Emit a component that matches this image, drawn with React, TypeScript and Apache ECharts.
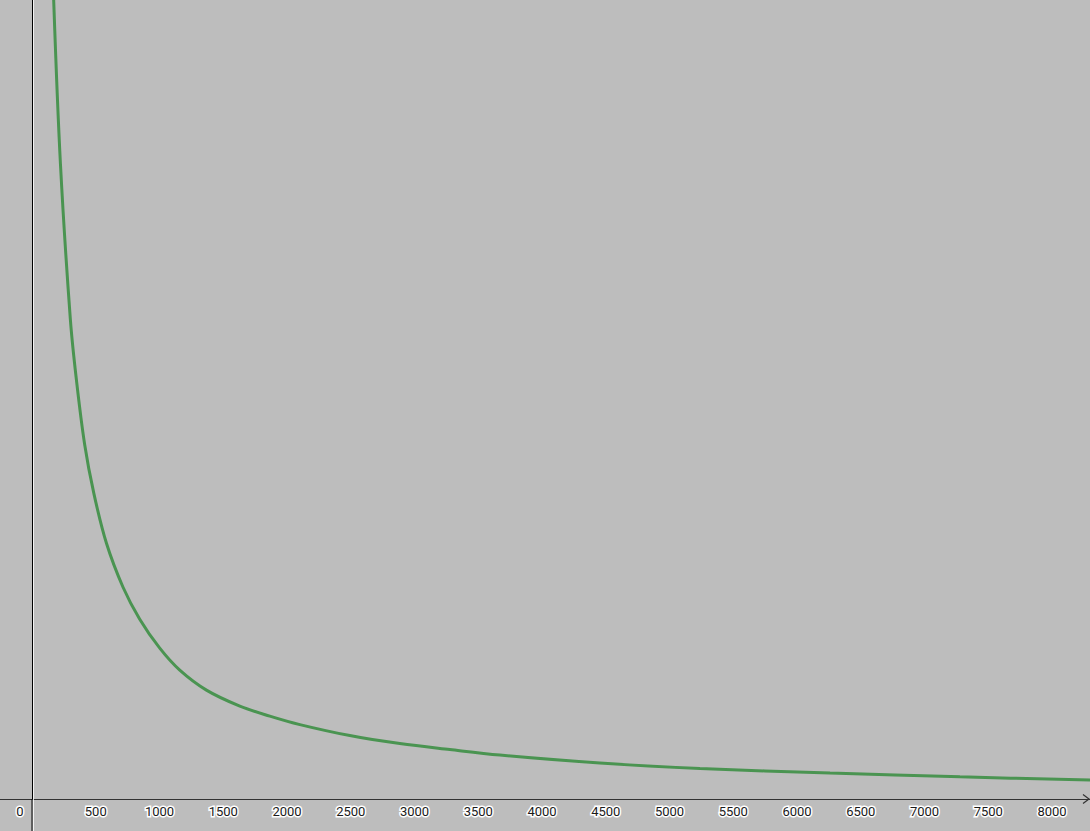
import React, { useEffect, useRef } from "react";
import * as echarts from "echarts";

// points (x, y)
const curveX = [
  170, 223, 301, 348, 413, 485, 584, 714, 845, 1002, 1159, 1368, 1630, 1865,
  2101, 2493, 2885, 3277, 3670, 4454, 5239, 6259, 7278, 8298,
];
const curveY = [
  8.0, 6.36, 4.8, 4.2, 3.55, 3.06, 2.56, 2.12, 1.8, 1.51, 1.29, 1.09, 0.93,
  0.83, 0.745, 0.635, 0.555, 0.495, 0.44, 0.36, 0.305, 0.26, 0.222, 0.19,
];

const xTickLabels = [
  0, 500, 1000, 1500, 2000, 2500, 3000, 3500, 4000, 4500, 5000, 5500, 6000,
  6500, 7000, 7500, 8000,
];

const xRange = [-251, 8298];
const yRange = [0, 8.0];

const App: React.FC = () => {
  const chartRef = useRef<HTMLDivElement>(null);

  useEffect(() => {
    if (!chartRef.current) return;
    const chart = echarts.init(chartRef.current, undefined, { renderer: "svg" });

    const labelStyle = {
      color: "#1a1a1a",
      fontFamily: "Roboto",
      fontSize: 13,
      textBorderColor: "#ffffff",
      textBorderWidth: 3,
    };

    chart.setOption({
      animation: false,
      backgroundColor: "#bdbdbd",
      grid: {
        left: 0,
        right: 0,
        top: 0,
        bottom: 32,
        containLabel: false,
        outerBoundsMode: "none",
      },
      xAxis: {
        type: "value",
        min: xRange[0],
        max: xRange[1],
        axisLine: { onZero: true, lineStyle: { color: "#333", width: 1 } },
        axisTick: { show: false },
        splitLine: { show: false },
        axisLabel: {
          customValues: xTickLabels,
          margin: 6,
          ...labelStyle,
          formatter: (v: number) => (v === 0 ? "{z|0}" : String(v)),
          rich: {
            z: { ...labelStyle, padding: [0, 24, 0, 0] },
          },
        },
      },
      yAxis: {
        type: "value",
        min: yRange[0],
        max: yRange[1],
        axisLine: { show: true, onZero: true, lineStyle: { color: "#000", width: 1 } },
        axisTick: { show: false },
        axisLabel: { show: false },
        splitLine: { show: false },
      },
      series: [
        {
          type: "line",
          data: curveX.map((x, i) => [x, curveY[i]]),
          smooth: 0.35,
          showSymbol: false,
          lineStyle: { color: "#4a9451", width: 3 },
          clip: true,
        },
      ],
    });

    const [ox, oy] = chart.convertToPixel({ gridIndex: 0 }, [0, 0]) as number[];
    const w = chart.getWidth();
    const h = chart.getHeight();
    chart.setOption({
      graphic: [
        {
          type: "line",
          shape: { x1: ox, y1: oy, x2: ox, y2: h },
          style: { stroke: "#000", lineWidth: 1 },
          z: 5,
        },
        {
          type: "line",
          shape: { x1: ox + 1.5, y1: 0, x2: ox + 1.5, y2: h },
          style: { stroke: "#ffffff", lineWidth: 1, opacity: 0.8 },
          z: 1,
        },
        {
          type: "polyline",
          shape: {
            points: [
              [w - 7, oy - 4.5],
              [w - 1, oy],
              [w - 7, oy + 4.5],
            ],
          },
          style: { stroke: "#333", lineWidth: 1.2, fill: "none" },
          z: 10,
        },
      ],
    });

    const handleResize = () => chart.resize();
    window.addEventListener("resize", handleResize);
    return () => {
      window.removeEventListener("resize", handleResize);
      chart.dispose();
    };
  }, []);

  return (
    <div
      ref={chartRef}
      style={{ position: "fixed", left: 0, top: 0, width: "100vw", height: "100vh" }}
    />
  );
};

export default App;
